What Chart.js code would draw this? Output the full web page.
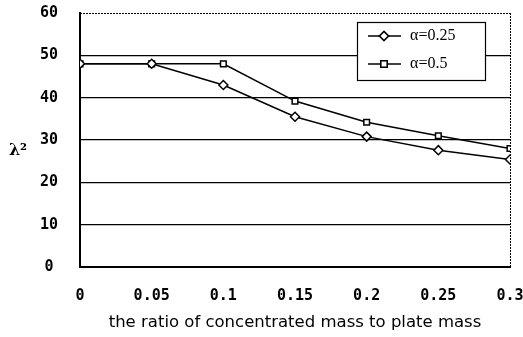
<!DOCTYPE html>
<html><head><meta charset="utf-8">
<script src="https://cdn.jsdelivr.net/npm/chart.js@4.4.0/dist/chart.umd.min.js"></script>
<style>html,body{margin:0;padding:0;background:#fff}#wrap{width:523px;height:337px}</style>
</head><body><div id="wrap"><canvas id="c" width="523" height="337"></canvas></div>
<script>
const xValues = [0, 0.05, 0.1, 0.15, 0.2, 0.25, 0.3];
const xTickLabels = ['0', '0.05', '0.1', '0.15', '0.2', '0.25', '0.3'];
const seriesA = [48, 48, 43, 35.5, 30.8, 27.6, 25.4];   // α=0.25
const seriesB = [48, 48, 48, 39.2, 34.2, 31, 28];       // α=0.5
const seriesLabels = ['α=0.25', 'α=0.5'];
const yTitle = 'λ²';
const xTitle = 'the ratio of concentrated mass to plate mass';

const decor = {
  id: 'decor',
  afterDraw(chart) {
    const {ctx, chartArea: a} = chart;
    ctx.save();
    ctx.strokeStyle = '#000'; ctx.lineWidth = 1; ctx.setLineDash([2, 1]);
    ctx.beginPath(); ctx.moveTo(a.left, a.top + 0.5); ctx.lineTo(a.right, a.top + 0.5);
    ctx.moveTo(a.right + 0.5, a.top); ctx.lineTo(a.right + 0.5, a.bottom); ctx.stroke();
    ctx.setLineDash([]);
    ctx.fillStyle = '#000';
    ctx.font = 'bold 16px "DejaVu Serif"';
    ctx.textAlign = 'center'; ctx.textBaseline = 'middle';
    ctx.fillText(yTitle, 18, 151);
    const bx = 357, by = 22, bw = 128, bh = 58;
    ctx.fillStyle = '#fff'; ctx.fillRect(bx, by, bw, bh);
    ctx.strokeStyle = '#000'; ctx.lineWidth = 1.2; ctx.strokeRect(bx + 0.5, by + 0.5, bw, bh);
    const styles = ['rectRot', 'rect'];
    chart.data.datasets.forEach((ds, i) => {
      const y = by + 14 + i * 28;
      ctx.lineWidth = 1.5; ctx.strokeStyle = '#000';
      ctx.beginPath(); ctx.moveTo(bx + 11, y); ctx.lineTo(bx + 44, y); ctx.stroke();
      Chart.helpers.drawPoint(ctx, {pointStyle: styles[i], radius: 4.5, borderWidth: 1.5}, bx + 27, y);
      ctx.fillStyle = '#fff'; ctx.fill(); ctx.stroke();
      ctx.fillStyle = '#000';
      ctx.font = '16px "Liberation Serif"';
      ctx.textAlign = 'left'; ctx.textBaseline = 'middle';
      ctx.fillText(ds.label, bx + 53, y);
    });
    ctx.restore();
  }
};

new Chart(document.getElementById('c'), {
  type: 'line',
  data: {
    datasets: [
      { label: seriesLabels[0], data: xValues.map((x, i) => ({x, y: seriesA[i]})),
        borderColor: '#000', borderWidth: 1.5, pointStyle: 'rectRot', pointRadius: 4.5,
        pointBackgroundColor: '#fff', pointBorderColor: '#000', pointBorderWidth: 1.5, tension: 0 },
      { label: seriesLabels[1], data: xValues.map((x, i) => ({x, y: seriesB[i]})),
        borderColor: '#000', borderWidth: 1.5, pointStyle: 'rect', pointRadius: 4,
        pointBackgroundColor: '#fff', pointBorderColor: '#000', pointBorderWidth: 1.5, tension: 0 }
    ]
  },
  options: {
    responsive: false, animation: false, devicePixelRatio: 1,
    layout: { padding: { left: 0, right: 13, top: 13, bottom: 0 } },
    plugins: { legend: { display: false }, tooltip: { enabled: false } },
    scales: {
      x: {
        type: 'linear', min: 0, max: 0.3,
        afterBuildTicks: s => { s.ticks = xValues.map(v => ({value: v})); },
        afterFit: s => { s.height = 70; s.paddingLeft = 0; s.paddingRight = 0; },
        ticks: { callback: (v, i) => xTickLabels[i], color: '#000', padding: 20,
                 font: { family: '"DejaVu Sans Mono"', size: 15, weight: 'bold' }, maxRotation: 0 },
        grid: { display: false, drawTicks: false },
        border: { display: true, color: '#000', width: 2 },
        title: { display: true, text: xTitle, color: '#000', padding: { top: 4 },
                 font: { family: '"DejaVu Sans"', size: 16.5 } }
      },
      y: {
        min: 0, max: 60,
        afterFit: s => { s.width = 80; s.paddingTop = 0; s.paddingBottom = 0; },
        ticks: { stepSize: 10, color: '#000', padding: 22, crossAlign: 'center',
                 font: { family: '"DejaVu Sans Mono"', size: 15, weight: 'bold' } },
        grid: { color: ctx => ctx.tick && ctx.tick.value === 60 ? 'rgba(0,0,0,0)' : '#000',
                lineWidth: 1.2, drawTicks: false },
        border: { display: true, color: '#000', width: 2 }
      }
    }
  },
  plugins: [decor]
});
</script>
</body></html>
